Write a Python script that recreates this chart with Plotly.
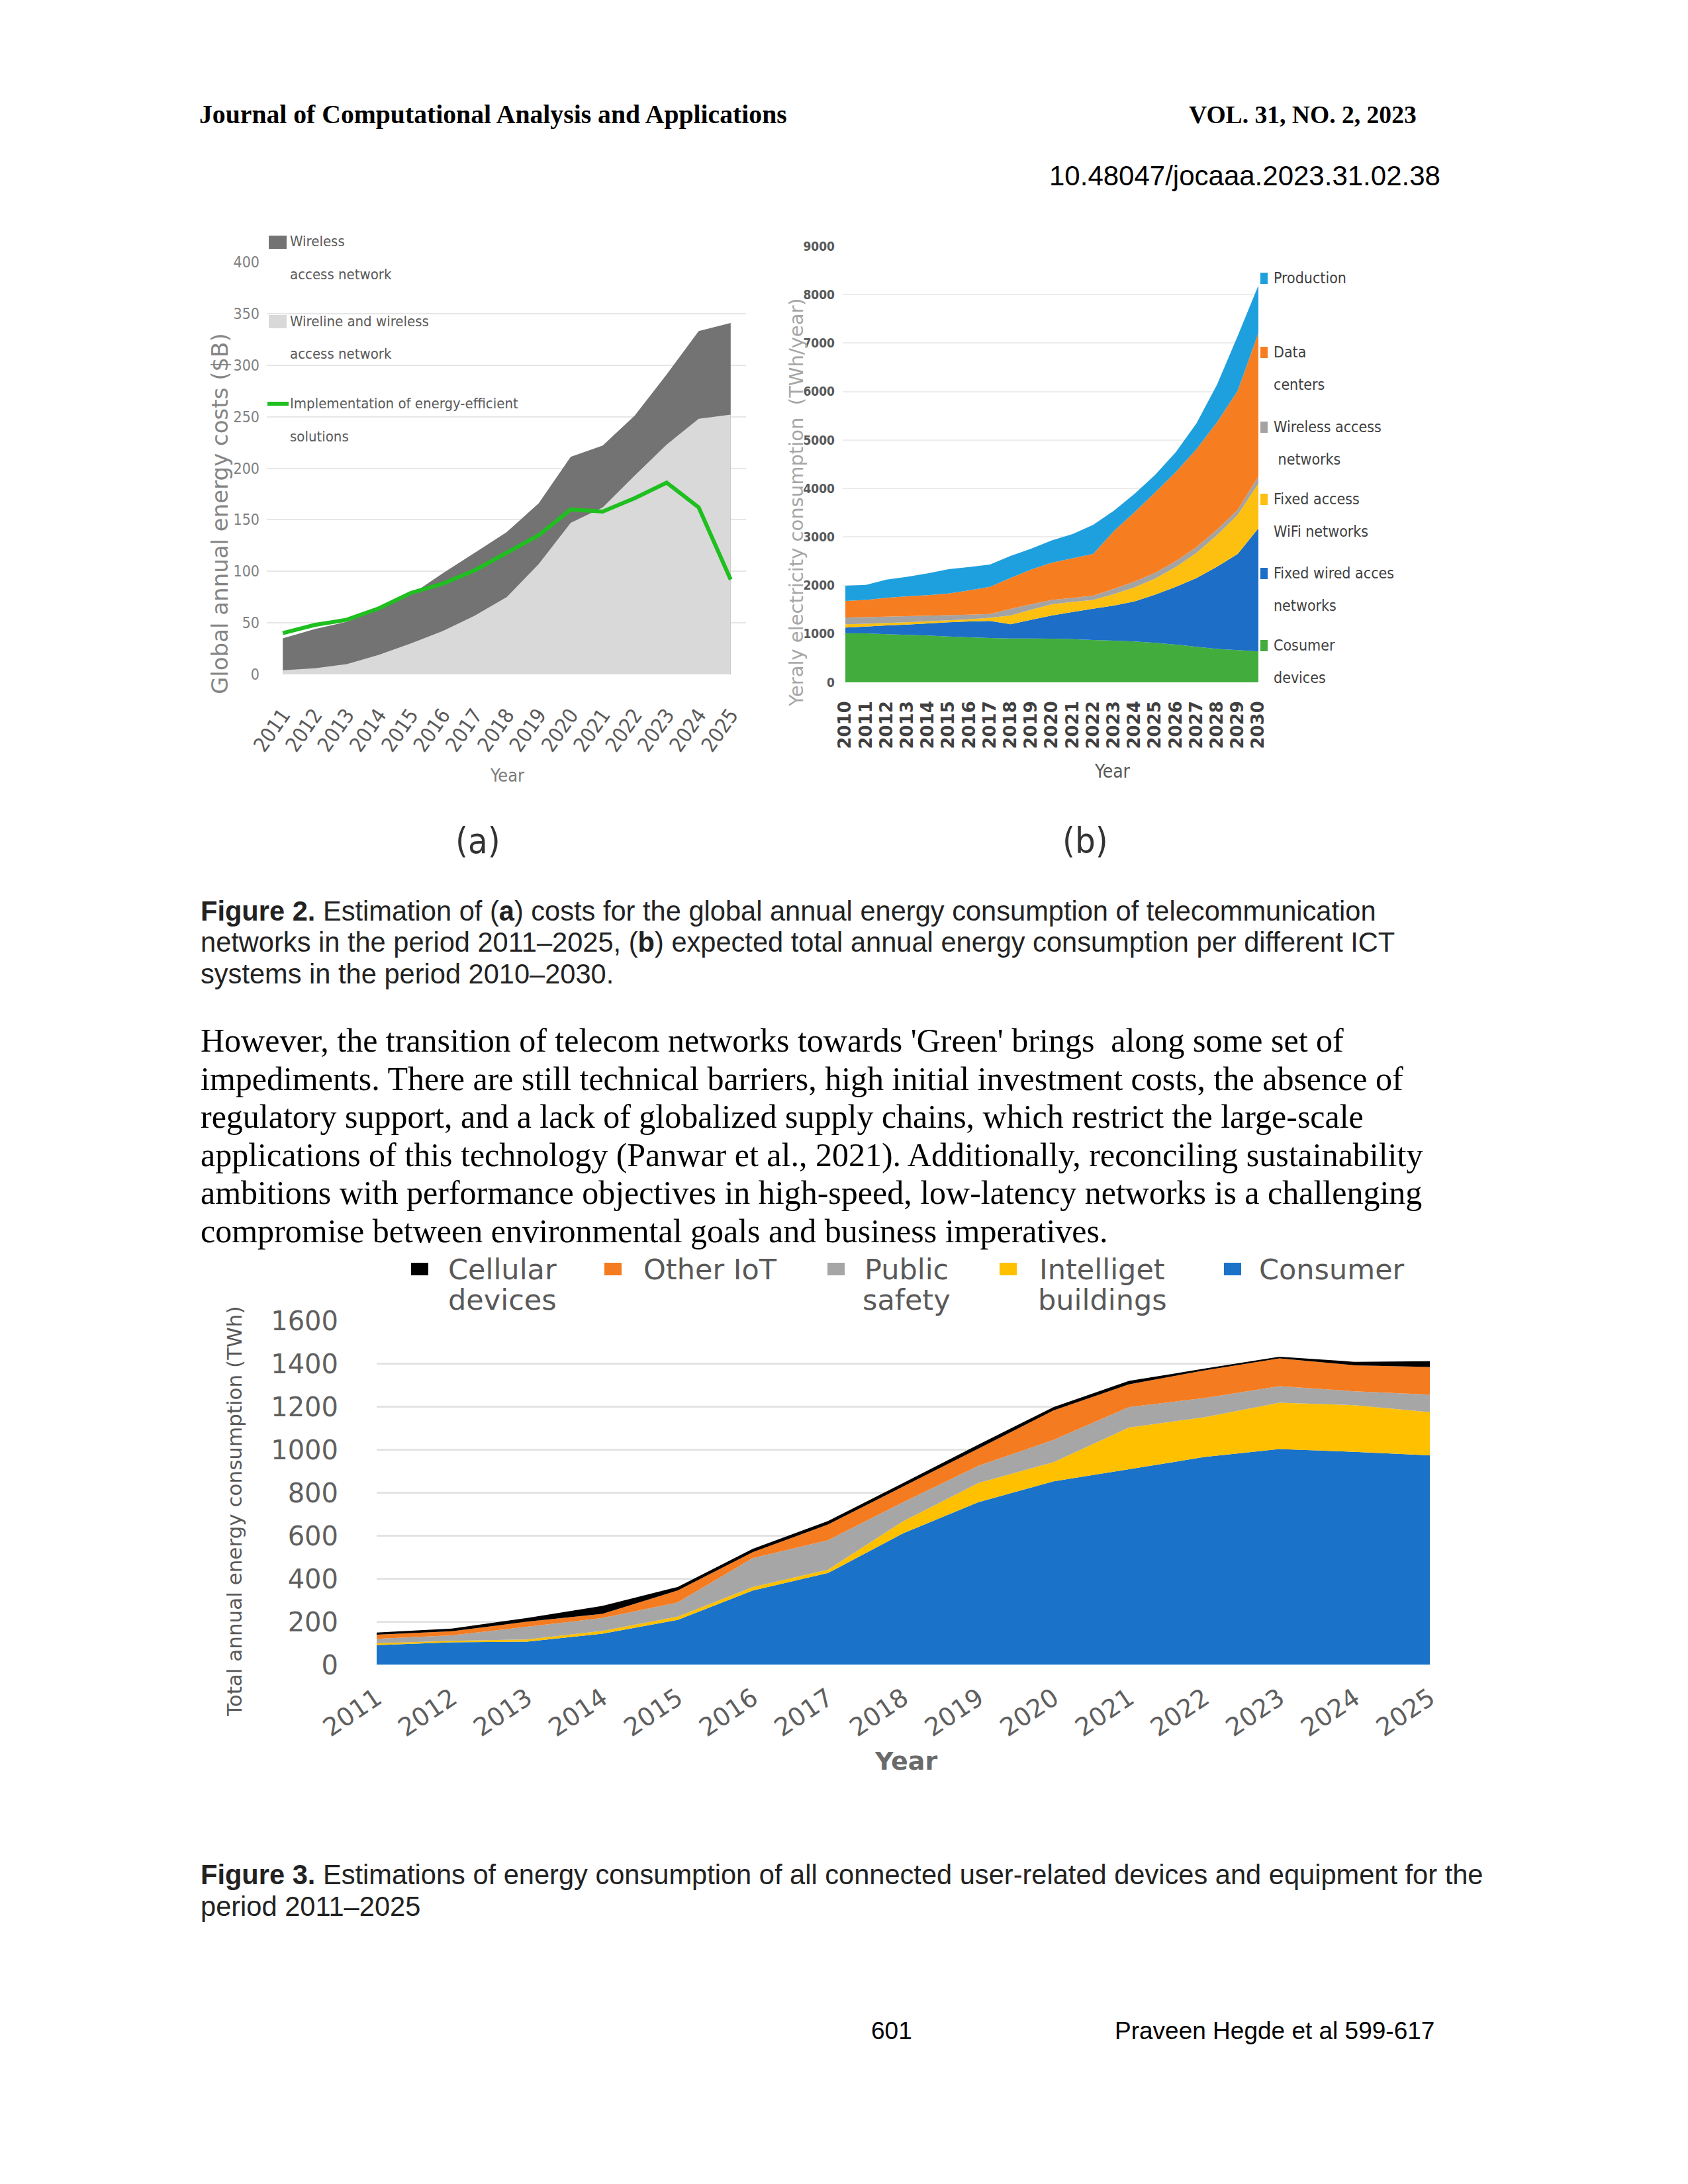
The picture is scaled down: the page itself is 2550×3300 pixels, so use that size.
import plotly.graph_objects as go

W, H = 2550, 3300
OFF = 8  # the page body adds this much before the figure starts

# ---- Figure 2(a): global annual energy costs ($B)
years_a = list(range(2011, 2026))
wireless_a = [35, 44, 51, 63, 77, 98, 118, 138, 166, 211, 222, 251, 291, 333, 341]
wireline_a = [4, 6, 10, 19, 30, 42, 57, 75, 107, 147, 162, 193, 223, 248, 252]
efficient_a = [40, 48, 53, 64, 79, 88, 101, 118, 135, 160, 158, 171, 186, 162, 92]

# ---- Figure 2(b): yearly electricity consumption (TWh/year), stacked
years_b = list(range(2010, 2031))
consumer_b = [1015, 1010, 995, 980, 965, 945, 930, 915, 905, 905, 900, 890, 875, 860, 845, 815, 780, 735, 690, 665, 640]
wired_b = [115, 140, 180, 210, 250, 295, 325, 350, 295, 385, 480, 560, 645, 725, 825, 995, 1190, 1415, 1695, 1985, 2540]
wifi_b = [70, 60, 50, 50, 45, 40, 45, 65, 180, 210, 230, 210, 180, 235, 290, 330, 410, 520, 655, 810, 920]
wireless_b = [140, 135, 130, 125, 115, 105, 95, 80, 135, 110, 90, 80, 90, 110, 120, 120, 120, 120, 110, 100, 150]
datacenter_b = [340, 355, 390, 410, 425, 450, 505, 560, 640, 720, 770, 820, 860, 1190, 1430, 1660, 1840, 2020, 2220, 2460, 2960]
production_b = [315, 310, 375, 405, 450, 500, 480, 460, 455, 430, 460, 500, 600, 420, 380, 360, 410, 535, 775, 1130, 980]

# ---- Figure 3: total annual energy consumption (TWh), stacked
years_c = list(range(2011, 2026))
consumer_c = [92, 105, 108, 145, 209, 346, 427, 612, 757, 854, 910, 967, 1004, 991, 975]
buildings_c = [8, 7, 10, 13, 15, 16, 16, 56, 89, 89, 194, 185, 216, 217, 201]
safety_c = [21, 25, 59, 60, 66, 135, 137, 89, 80, 104, 96, 89, 77, 65, 81]
other_iot_c = [19, 19, 24, 19, 56, 27, 73, 73, 80, 137, 105, 129, 129, 121, 129]
cellular_c = [10, 13, 17, 37, 16, 16, 16, 16, 19, 16, 16, 8, 8, 16, 27]

NARROW = "DejaVu Sans Condensed, Liberation Sans Narrow, Roboto, sans-serif"
WIDE = "DejaVu Sans, sans-serif"
SERIF = "Liberation Serif, serif"
SANS = "Liberation Sans, Arial, sans-serif"


def fx(x):
    return (x - OFF) / W


def fy(y):
    return 1 - (y - OFF) / H


def note(text, x, y, size, color="#000000", family=SANS, xanchor="left",
         yanchor="middle", angle=0, align="left"):
    return dict(text=text, x=fx(x), y=fy(y), xref="paper", yref="paper",
                showarrow=False, xanchor=xanchor, yanchor=yanchor,
                textangle=angle, align=align,
                font=dict(size=size, color=color, family=family))


def box(x0, y0, x1, y1, color):
    return dict(type="rect", xref="paper", yref="paper",
                x0=fx(x0), x1=fx(x1), y0=fy(y1), y1=fy(y0),
                fillcolor=color, line=dict(width=0))


fig = go.Figure()

# (a)
fig.add_trace(go.Scatter(x=years_a, y=wireless_a, mode="none", fill="tozeroy",
                         fillcolor="#737373", xaxis="x", yaxis="y"))
fig.add_trace(go.Scatter(x=years_a, y=wireline_a, mode="none", fill="tozeroy",
                         fillcolor="#d9d9d9", xaxis="x", yaxis="y"))
fig.add_trace(go.Scatter(x=years_a, y=efficient_a, mode="lines",
                         line=dict(color="#1fbf1f", width=6), xaxis="x", yaxis="y"))

# (b)
b_series = [(consumer_b, "#42ad3c"), (wired_b, "#1c6ec6"), (wifi_b, "#fdc010"),
            (wireless_b, "#a3a3a3"), (datacenter_b, "#f77e20"), (production_b, "#1fa0de")]
for vals, col in b_series:
    fig.add_trace(go.Scatter(x=years_b, y=vals, mode="none", stackgroup="b",
                             fillcolor=col, xaxis="x2", yaxis="y2"))

# Figure 3
c_series = [(consumer_c, "#1a73c8"), (buildings_c, "#ffc000"), (safety_c, "#a6a6a6"),
            (other_iot_c, "#f47b20"), (cellular_c, "#000000")]
for vals, col in c_series:
    fig.add_trace(go.Scatter(x=years_c, y=vals, mode="none", stackgroup="c",
                             fillcolor=col, xaxis="x3", yaxis="y3"))

ann = []
shapes = []

# page text
ann.append(note("<b>Journal of Computational Analysis and Applications</b>", 299, 173, 39.7, family=SERIF))
ann.append(note("<b>VOL. 31, NO. 2, 2023</b>", 2142, 173, 37.6, family=SERIF, xanchor="right"))
ann.append(note("10.48047/jocaaa.2023.31.02.38", 2178, 265, 42, xanchor="right"))

ann.append(note("(a)", 722, 1270, 54, color="#333333", family=NARROW, xanchor="center"))
ann.append(note("(b)", 1639, 1270, 54, color="#333333", family=NARROW, xanchor="center"))

cap2 = ["<b>Figure 2.</b> Estimation of (<b>a</b>) costs for the global annual energy consumption of telecommunication",
        "networks in the period 2011\u20132025, (<b>b</b>) expected total annual energy consumption per different ICT",
        "systems in the period 2010\u20132030."]
for i, line in enumerate(cap2):
    ann.append(note(line, 301, 1376 + i * 47.5, 41.6, color="#222222"))

para = ["However, the transition of telecom networks towards 'Green' brings  along some set of",
        "impediments. There are still technical barriers, high initial investment costs, the absence of",
        "regulatory support, and a lack of globalized supply chains, which restrict the large-scale",
        "applications of this technology (Panwar et al., 2021). Additionally, reconciling sustainability",
        "ambitions with performance objectives in high-speed, low-latency networks is a challenging",
        "compromise between environmental goals and business imperatives."]
for i, line in enumerate(para):
    ann.append(note(line, 301, 1572 + i * 57.6, 50, family=SERIF))

cap3 = ["<b>Figure 3.</b> Estimations of energy consumption of all connected user-related devices and equipment for the",
        "period 2011\u20132025"]
for i, line in enumerate(cap3):
    ann.append(note(line, 301, 2832 + i * 48, 41.6, color="#222222"))

ann.append(note("601", 1347, 3068, 37, xanchor="center"))
ann.append(note("Praveen Hegde et al 599-617", 2169, 3068, 37, xanchor="right"))

# (a) titles and legend
ann.append(note("Global annual energy costs ($B)", 332, 776, 34, color="#858585",
                family=WIDE, xanchor="center", angle=-90))
ann.append(note("Year", 766, 1171, 27, color="#7a7a7a", family=NARROW, xanchor="center"))
shapes.append(box(406, 356, 433, 376, "#737373"))
shapes.append(box(406, 476, 433, 496, "#d9d9d9"))
shapes.append(dict(type="line", xref="paper", yref="paper", x0=fx(404), x1=fx(436),
                   y0=fy(610), y1=fy(610), line=dict(color="#1fbf1f", width=6)))
for text, y in [("Wireless", 364), ("access network", 415), ("Wireline and wireless", 486),
                ("access network", 535), ("Implementation of energy-efficient", 610),
                ("solutions", 660)]:
    ann.append(note(text, 436, y, 22, color="#5a5a5a", family=NARROW))

# (b) titles and legend
ann.append(note("Yeraly electricity consumption  (TWh/year)", 1203, 759, 29, color="#a6a6a6",
                family=WIDE, xanchor="center", angle=-90))
ann.append(note("Year", 1680, 1166, 28, color="#595959", family=NARROW, xanchor="center"))
b_legend = [("#1fa0de", 420, ["Production"]), ("#f77e20", 532, ["Data", "centers"]),
            ("#a3a3a3", 645, ["Wireless access", " networks"]),
            ("#fdc010", 754, ["Fixed access", "WiFi networks"]),
            ("#1c6ec6", 866, ["Fixed wired acces", "networks"]),
            ("#42ad3c", 975, ["Cosumer", "devices"])]
for col, y, lines in b_legend:
    shapes.append(box(1904, y - 8, 1915, y + 9, col))
    for j, text in enumerate(lines):
        ann.append(note(text, 1922, y + j * 49, 23, color="#404040", family=NARROW))

# Figure 3 titles and legend
ann.append(note("Total annual energy consumption (TWh)", 354, 2284, 31, color="#595959",
                family=WIDE, xanchor="center", angle=-90))
ann.append(note("<b>Year</b>", 1368, 2661, 38, color="#6a6a6a", family=WIDE, xanchor="center"))
c_legend = [("#000000", 621, 759, ["Cellular", "devices"]),
            ("#f47b20", 913, 1073, ["Other IoT"]),
            ("#a6a6a6", 1250, 1370, ["Public", "safety"]),
            ("#ffc000", 1510, 1665, ["Intelliget", "buildings"]),
            ("#1a73c8", 1849, 2012, ["Consumer"])]
for col, x, xc, lines in c_legend:
    shapes.append(box(x, 1908, x + 26, 1927, col))
    for j, text in enumerate(lines):
        ann.append(note(text, xc, 1918 + j * 46, 43, color="#595959", family=WIDE,
                        xanchor="center"))

axis_common = dict(automargin=False, zeroline=False, showline=False, ticks="")

fig.update_layout(
    width=W, height=H,
    margin=dict(l=0, r=0, t=0, b=0, pad=0),
    autosize=False,
    paper_bgcolor="white", plot_bgcolor="white",
    showlegend=False,
    annotations=ann, shapes=shapes,
    xaxis=dict(domain=[fx(403), fx(1127)], anchor="y", range=[2010.5, 2025.48],
               tickvals=years_a, tickangle=-55, showgrid=False,
               ticklabelstandoff=36, tickfont=dict(size=31, color="#5a5a5a", family=NARROW),
               **axis_common),
    yaxis=dict(domain=[fy(1019), fy(396)], anchor="x", range=[0, 400], dtick=50,
               gridcolor="#e6e6e6", gridwidth=2, ticklabelstandoff=10,
               tickfont=dict(size=23, color="#808080", family=NARROW), **axis_common),
    xaxis2=dict(domain=[fx(1273), fx(1901)], anchor="y2", range=[2009.87, 2030],
                tickvals=years_b, tickangle=-90, showgrid=False,
                ticklabelstandoff=22,
                tickfont=dict(size=26, color="#404040", family="DejaVu Sans", weight="bold"),
                **axis_common),
    yaxis2=dict(domain=[fy(1031), fy(372)], anchor="x2", range=[0, 9000], dtick=1000,
                gridcolor="#ececec", gridwidth=2, ticklabelstandoff=11,
                tickfont=dict(size=19, color="#595959", family=NARROW, weight="bold"),
                **axis_common),
    xaxis3=dict(domain=[fx(569), fx(2160)], anchor="y3", range=[2011, 2025],
                tickvals=years_c, tickangle=-34, showgrid=False,
                ticklabelstandoff=20, tickfont=dict(size=38, color="#5f5f5f", family=WIDE),
                **axis_common),
    yaxis3=dict(domain=[fy(2515.5), fy(1996)], anchor="x3", range=[0, 1600], dtick=200,
                gridcolor="#e3e3e3", gridwidth=3, ticklabelstandoff=57,
                tickfont=dict(size=40, color="#5f5f5f", family=WIDE), **axis_common),
)

fig.write_html("out.html")
